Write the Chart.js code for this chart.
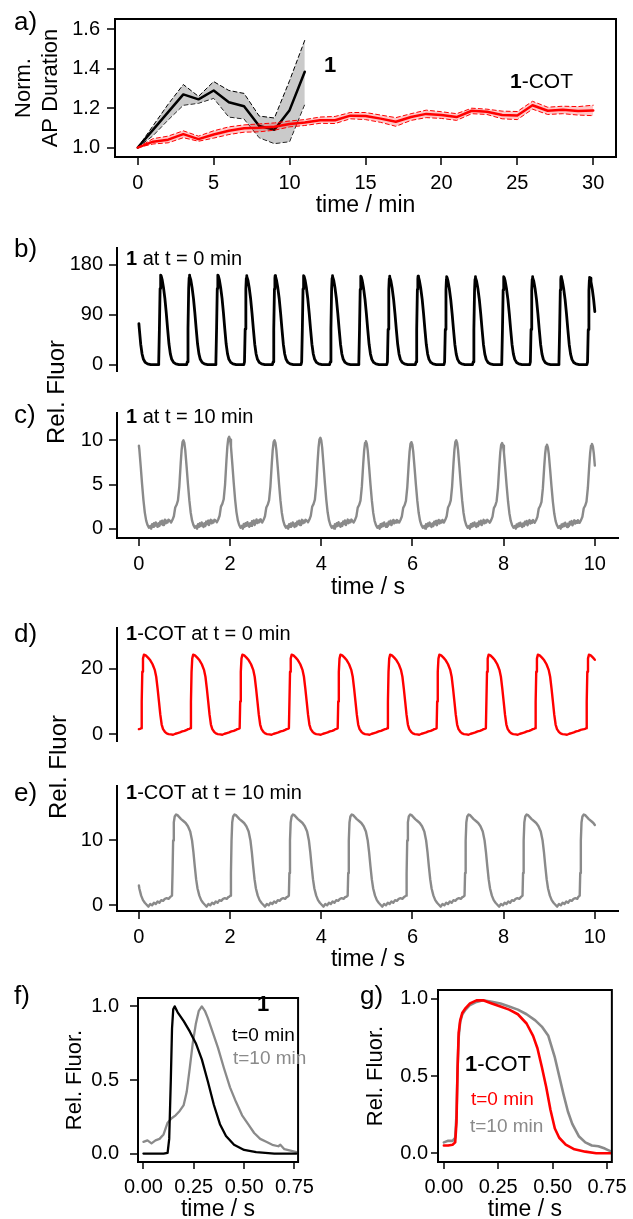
<!DOCTYPE html>
<html><head><meta charset="utf-8">
<script src="https://cdn.jsdelivr.net/npm/chart.js@4.4.1/dist/chart.umd.min.js"></script>
<style>
html,body{margin:0;padding:0;background:#fff;}
#fig{position:relative;width:633px;height:1219px;overflow:hidden;font-family:"Liberation Sans",Arial,sans-serif;color:#000;}
canvas{position:absolute;}
.lbl{position:absolute;white-space:nowrap;line-height:1;transform:translateY(-50%);}
.rot{position:absolute;white-space:nowrap;line-height:1;transform:translate(-50%,-50%) rotate(-90deg);}
b{font-weight:bold;}
</style></head><body><div id="fig">
<canvas id="cA" style="left:0;top:0" width="633" height="225"></canvas>
<canvas id="cB" style="left:0;top:230px" width="633" height="160"></canvas>
<canvas id="cC" style="left:0;top:395px" width="633" height="210"></canvas>
<canvas id="cD" style="left:0;top:610px" width="633" height="150"></canvas>
<canvas id="cE" style="left:0;top:768px" width="633" height="207"></canvas>
<canvas id="cF" style="left:0;top:975px" width="320" height="244"></canvas>
<canvas id="cG" style="left:320px;top:975px" width="313" height="244"></canvas>

<div class="lbl" style="left:14px;top:21px;font-size:26px">a)</div>
<div class="lbl" style="left:14px;top:248px;font-size:26px">b)</div>
<div class="lbl" style="left:14px;top:414px;font-size:26px">c)</div>
<div class="lbl" style="left:14px;top:633px;font-size:26px">d)</div>
<div class="lbl" style="left:14px;top:792px;font-size:26px">e)</div>
<div class="lbl" style="left:14px;top:995px;font-size:26px">f)</div>
<div class="lbl" style="left:360px;top:995px;font-size:26px">g)</div>

<div class="lbl" style="left:324px;top:65px;font-size:22px"><b>1</b></div>
<div class="lbl" style="left:510px;top:80px;font-size:21px"><b>1</b>-COT</div>

<div class="lbl" style="left:126px;top:258px;font-size:20px"><b>1</b> at t = 0 min</div>
<div class="lbl" style="left:126px;top:416px;font-size:20px"><b>1</b> at t = 10 min</div>
<div class="lbl" style="left:126px;top:633px;font-size:20px"><b>1</b>-COT at t = 0 min</div>
<div class="lbl" style="left:126px;top:792px;font-size:20px"><b>1</b>-COT at t = 10 min</div>

<div class="rot" style="left:56px;top:392px;font-size:24px">Rel. Fluor</div>
<div class="rot" style="left:58px;top:767px;font-size:24px">Rel. Fluor</div>

<div class="lbl" style="left:257px;top:1004px;font-size:22px"><b>1</b></div>
<div class="lbl" style="left:232px;top:1034px;font-size:19px">t=0 min</div>
<div class="lbl" style="left:233px;top:1057px;font-size:19px;color:#8a8a8a">t=10 min</div>

<div class="lbl" style="left:465px;top:1064px;font-size:22px"><b>1</b>-COT</div>
<div class="lbl" style="left:471px;top:1098px;font-size:19px;color:#ff0000">t=0 min</div>
<div class="lbl" style="left:470px;top:1125px;font-size:19px;color:#8a8a8a">t=10 min</div>
</div>
<script>
// ---------------- Panel a: normalized AP duration vs time (min) ----------------
const minutes1 = [0,1,2,3,4,5,6,7,8,9,10,11];
const apd1Mean  = [1.00,1.09,1.18,1.27,1.245,1.29,1.23,1.21,1.11,1.09,1.19,1.385];
const apd1Upper = [1.00,1.11,1.22,1.32,1.26,1.335,1.29,1.275,1.16,1.15,1.34,1.545];
const apd1Lower = [1.00,1.06,1.14,1.215,1.225,1.25,1.155,1.145,1.05,1.02,1.03,1.22];
const minutesCOT = [0,1,2,3,4,5,6,7,8,9,10,11,12,13,14,15,16,17,18,19,20,21,22,23,24,25,26,27,28,29,30];
const apdCOTMean  = [1.00,1.03,1.04,1.068,1.043,1.066,1.085,1.098,1.10,1.106,1.12,1.127,1.139,1.139,1.162,1.16,1.147,1.131,1.155,1.171,1.165,1.155,1.187,1.182,1.165,1.163,1.215,1.187,1.192,1.186,1.188];
const apdCOTUpper = [1.00,1.045,1.058,1.085,1.058,1.085,1.105,1.115,1.12,1.125,1.135,1.142,1.155,1.158,1.178,1.178,1.165,1.152,1.172,1.19,1.182,1.172,1.2,1.195,1.185,1.183,1.235,1.205,1.21,1.208,1.215];
const apdCOTLower = [1.00,1.018,1.024,1.05,1.032,1.048,1.066,1.078,1.08,1.088,1.105,1.112,1.123,1.122,1.146,1.142,1.128,1.108,1.138,1.152,1.148,1.138,1.172,1.168,1.146,1.142,1.195,1.168,1.172,1.165,1.162];
const ticksAx = [0,5,10,15,20,25,30];
const ticksAy = [1.0,1.2,1.4,1.6];

// ---------------- Panel b: compound 1, t = 0 min ----------------
const beatsB = [-0.14,0.48,1.107,1.734,2.361,2.988,3.615,4.242,4.869,5.496,6.123,6.75,7.377,8.004,8.631,9.258,9.885];
const ampsB  = [160,161,161,161,160,160,160,160,159,159,159,158,158,158,158,158,157];
const shapeB_dt  = [-0.06,-0.045,-0.03,-0.015,-0.005,0,0.01,0.03,0.06,0.09,0.12,0.15,0.18,0.21,0.24,0.28,0.33,0.4];
const shapeB_val = [0,0.03,0.4,0.85,0.97,1,0.99,0.95,0.86,0.74,0.58,0.4,0.23,0.12,0.06,0.025,0.008,0];
const ticksBy = [0,90,180];

// ---------------- Panel c: compound 1, t = 10 min ----------------
const beatsC = [-0.03,0.977,1.98,2.975,3.98,4.98,5.977,6.96,7.966,8.95,9.937];
const ampsC  = [10.1,10.0,10.4,10.0,10.3,9.9,9.8,10.0,9.7,9.5,9.6];
const shapeC_dt  = [-0.30,-0.27,-0.24,-0.21,-0.18,-0.15,-0.12,-0.09,-0.06,-0.04,-0.02,0,0.02,0.04,0.07,0.1,0.13,0.16,0.19,0.22,0.25,0.28,0.30,0.32,0.34,0.36,0.38,0.40,0.42,0.44,0.46,0.48,0.50,0.52,0.54,0.56,0.58,0.60,0.62,0.64,0.66,0.68];
const shapeC_val = [0.9,0.7,1.0,1.4,2.4,2.7,3.2,4.8,7.4,8.9,9.8,10,9.7,8.9,7.0,5.0,3.2,1.8,0.9,0.4,0.1,0.3,0.0,0.5,0.2,0.6,0.3,0.7,0.4,0.2,0.6,0.3,0.8,0.5,0.9,0.4,0.7,1.0,0.6,0.9,0.7,1.0];
const ticksCx = [0,2,4,6,8,10];
const ticksCy = [0,5,10];

// ---------------- Panel d: 1-COT, t = 0 min ----------------
const beatsD = [0.05,1.13,2.21,3.29,4.36,5.45,6.53,7.61,8.69,9.81];
const shapeD_dt  = [-0.05,-0.02,0,0.012,0.025,0.04,0.06,0.1,0.15,0.2,0.25,0.3,0.33,0.36,0.39,0.42,0.45,0.48,0.52,0.56,0.6,0.65,0.7,0.75,0.8,0.85,0.9,0.95,1.0];
const shapeD_val = [1.6,1.7,1.9,10,19,23,24.2,24.0,23.3,22.5,21.3,19.5,17.5,14,10,6,3,1.6,0.8,0.3,0.1,0.0,-0.1,0.2,0.4,0.6,0.9,1.1,1.4];
const ticksDy = [0,20];

// ---------------- Panel e: 1-COT, t = 10 min ----------------
const beatsE = [-0.55,0.726,2.007,3.289,4.579,5.86,7.142,8.414,9.668];
const shapeE_dt  = [-0.03,0,0.012,0.025,0.04,0.06,0.09,0.12,0.16,0.2,0.25,0.3,0.35,0.4,0.44,0.47,0.5,0.53,0.56,0.6,0.64,0.68,0.72,0.76,0.8,0.84,0.88,0.92,0.96,1.0,1.04,1.08,1.12,1.16,1.2,1.24];
const shapeE_val = [1.3,1.5,5,10,12.8,13.7,14,13.9,13.6,13.3,13,12.7,12.2,11.4,10,8.2,6,4,2.6,1.5,0.8,0.4,0.1,-0.2,0.2,0.0,0.4,0.2,0.6,0.4,0.8,0.7,1.0,1.1,1.0,1.3];
const ticksEy = [0,10];

// ---------------- Panel f: single normalized AP, compound 1 ----------------
const fT0_t = [0,0.1,0.12,0.128,0.136,0.142,0.148,0.155,0.17,0.2,0.23,0.26,0.29,0.32,0.35,0.38,0.41,0.45,0.5,0.56,0.65,0.76];
const fT0_v = [0,0,0.005,0.1,0.5,0.85,0.98,1.0,0.96,0.9,0.83,0.75,0.64,0.49,0.33,0.2,0.12,0.06,0.025,0.01,0.0,0.0];
const fT10_t = [0,0.02,0.04,0.06,0.08,0.1,0.12,0.14,0.16,0.18,0.2,0.215,0.23,0.245,0.26,0.275,0.29,0.305,0.32,0.34,0.37,0.4,0.43,0.46,0.49,0.52,0.55,0.58,0.61,0.64,0.67,0.68,0.7,0.73,0.76];
const fT10_v = [0.08,0.09,0.07,0.09,0.1,0.13,0.21,0.24,0.26,0.29,0.33,0.42,0.58,0.75,0.88,0.97,1.0,0.97,0.92,0.84,0.72,0.58,0.45,0.35,0.26,0.2,0.14,0.1,0.08,0.06,0.05,0.06,0.03,0.02,0.01];

// ---------------- Panel g: single normalized AP, 1-COT ----------------
const gT0_t = [0,0.02,0.04,0.052,0.058,0.063,0.068,0.075,0.085,0.1,0.12,0.15,0.18,0.22,0.26,0.3,0.34,0.38,0.41,0.43,0.45,0.47,0.49,0.51,0.53,0.56,0.6,0.65,0.7,0.77];
const gT0_v = [0.05,0.05,0.055,0.07,0.2,0.55,0.78,0.86,0.91,0.94,0.97,0.99,0.99,0.97,0.95,0.93,0.9,0.84,0.76,0.68,0.56,0.43,0.28,0.16,0.1,0.055,0.025,0.01,0.0,0.0];
const gT10_t = [0,0.02,0.04,0.052,0.058,0.063,0.068,0.075,0.085,0.1,0.12,0.15,0.18,0.22,0.26,0.3,0.34,0.38,0.42,0.45,0.48,0.51,0.53,0.55,0.57,0.59,0.62,0.65,0.68,0.71,0.74,0.77];
const gT10_v = [0.07,0.08,0.08,0.1,0.25,0.55,0.75,0.85,0.9,0.93,0.96,0.98,0.99,0.98,0.97,0.95,0.93,0.9,0.86,0.82,0.76,0.62,0.5,0.38,0.27,0.19,0.11,0.07,0.05,0.045,0.03,0.01];
const ticksFGx = [0,0.25,0.5,0.75];
const ticksFGy = [0,0.5,1.0];

// ---------------- helpers ----------------
const FONT = '"Liberation Sans", Arial, sans-serif';
Chart.defaults.font.family = FONT;
Chart.defaults.color = '#000';
Chart.defaults.animation = false;

const RED = '#ff0000', GRAY = '#8a8a8a';

function xy(xs, ys){ return xs.map((x,i)=>({x:x, y:ys[i]})); }

function buildTrace(beats, amps, dts, vals, peak, t0, t1){
  const pts = [];
  for (let i=0;i<beats.length;i++){
    const next = i+1<beats.length ? beats[i+1]+dts[0] : Infinity;
    const k = amps ? amps[i]/peak : 1;
    for (let j=0;j<dts.length;j++){
      const t = beats[i]+dts[j];
      if (t >= next) break;
      pts.push({x:t, y:vals[j]*k});
    }
  }
  const out = [];
  for (let i=0;i<pts.length;i++){
    const p = pts[i];
    if (p.x < t0){
      const q = pts[i+1];
      if (q && q.x > t0) out.push({x:t0, y:p.y+(q.y-p.y)*(t0-p.x)/(q.x-p.x)});
      continue;
    }
    if (p.x > t1){
      const q = pts[i-1];
      if (q && q.x < t1) out.push({x:t1, y:q.y+(p.y-q.y)*(t1-q.x)/(p.x-q.x)});
      break;
    }
    out.push(p);
  }
  return out;
}

const boxPlugin = {
  id:'box',
  afterDraw(chart, args, opts){
    if (!opts || !opts.on) return;
    const a = chart.chartArea, c = chart.ctx;
    c.save(); c.strokeStyle='#000'; c.lineWidth=2;
    c.strokeRect(a.left, a.top, a.right-a.left, a.bottom-a.top);
    c.restore();
  }
};
Chart.register(boxPlugin);

function axis(o){
  return {
    type:'linear', min:o.min, max:o.max, display:o.display!==false,
    afterFit: s => { if (o.size!=null){ if (s.isHorizontal()) s.height=o.size; else s.width=o.size; } },
    afterBuildTicks: s => { s.ticks = o.ticks.map(v=>({value:v})); },
    ticks:{ font:{size:o.fs||20}, color:'#000', padding:o.pad||6, autoSkip:false, maxRotation:0,
            callback: v => o.fmt ? o.fmt(v) : String(v) },
    grid:{ display:true, drawOnChartArea:false, drawTicks:true, tickLength:o.tl||8, tickWidth:1.5, tickColor:'#000', color:'#000', lineWidth:0 },
    border:{ display:!!o.border, color:'#000', width:2 },
    title: o.title ? { display:true, text:o.title, color:'#000', font:{size:o.tfs||22, lineHeight:1.2}, padding:o.tpad||{top:0,bottom:0} } : {display:false}
  };
}

function make(id, cw, ch, pad, xAx, yAx, datasets, box){
  new Chart(document.getElementById(id), {
    type:'line',
    data:{datasets:datasets},
    options:{
      responsive:false, animation:false, events:[],
      layout:{ padding:pad, autoPadding:false },
      plugins:{ legend:{display:false}, tooltip:{enabled:false}, box:{on:!!box} },
      elements:{ point:{radius:0}, line:{tension:0, borderJoinStyle:'round', borderCapStyle:'round'} },
      scales:{ x:xAx, y:yAx }
    }
  });
}

function line(data, color, w, extra){
  return Object.assign({data:data, borderColor:color, borderWidth:w, pointRadius:0, fill:false}, extra||{});
}

// ---------------- Panel a ----------------
make('cA', 633, 225, {left:0, top:13, right:633-616, bottom:0},
  axis({min:-1.5, max:31.5, ticks:ticksAx, size:225-157, tl:8, pad:6, title:'time / min', tfs:23, tpad:{top:0,bottom:6}}),
  axis({min:0.952, max:1.653, ticks:ticksAy, size:115, tl:8, pad:7, fmt:v=>v.toFixed(1), title:['Norm.','AP Duration'], tpad:{top:11,bottom:0}}),
  [
    line(xy(minutesCOT, apdCOTMean), RED, 2.5),
    line(xy(minutesCOT, apdCOTUpper), RED, 1, {borderDash:[4,3], fill:'+1', backgroundColor:'rgba(255,0,0,0.22)'}),
    line(xy(minutesCOT, apdCOTLower), RED, 1, {borderDash:[4,3]}),
    line(xy(minutes1, apd1Mean), '#000', 2.5),
    line(xy(minutes1, apd1Upper), '#000', 1, {borderDash:[4,3], fill:'+1', backgroundColor:'rgba(150,150,150,0.5)'}),
    line(xy(minutes1, apd1Lower), '#000', 1, {borderDash:[4,3]})
  ], true);

// ---------------- Panel b ----------------
make('cB', 633, 160, {left:0, top:247-230, right:633-619, bottom:390-382},
  axis({min:-0.48, max:10.53, ticks:ticksCx, display:false}),
  axis({min:-13.2, max:209.7, ticks:ticksBy, size:117, tl:8, pad:6, border:true}),
  [ line(buildTrace(beatsB, ampsB, shapeB_dt, shapeB_val, 1, 0, 10), '#000', 2.8) ]);

// ---------------- Panel c ----------------
make('cC', 633, 210, {left:0, top:405-395, right:633-619, bottom:0},
  axis({min:-0.48, max:10.53, ticks:ticksCx, size:605-538, tl:8, pad:6, border:true, title:'time / s', tfs:23, tpad:{top:0,bottom:4}}),
  axis({min:-1.06, max:13.1, ticks:ticksCy, size:117, tl:8, pad:6, border:true}),
  [ line(buildTrace(beatsC, ampsC, shapeC_dt, shapeC_val, 10, 0, 10), GRAY, 2.4) ]);

// ---------------- Panel d ----------------
make('cD', 633, 150, {left:0, top:621-610, right:633-619, bottom:760-755},
  axis({min:-0.48, max:10.53, ticks:ticksCx, display:false}),
  axis({min:-2.3, max:32.3, ticks:ticksDy, size:117, tl:8, pad:6, border:true}),
  [ line(buildTrace(beatsD, null, shapeD_dt, shapeD_val, 1, 0, 10), RED, 2.4) ]);

// ---------------- Panel e ----------------
make('cE', 633, 207, {left:0, top:778-768, right:633-619, bottom:0},
  axis({min:-0.48, max:10.53, ticks:ticksCx, size:975-911, tl:8, pad:6, border:true, title:'time / s', tfs:23, tpad:{top:0,bottom:2}}),
  axis({min:-0.87, max:18.4, ticks:ticksEy, size:117, tl:8, pad:6, border:true}),
  [ line(buildTrace(beatsE, null, shapeE_dt, shapeE_val, 1, 0, 10), GRAY, 2.4) ]);

// ---------------- Panel f ----------------
const fmt2 = v => v.toFixed(2);
const fmt1 = v => v.toFixed(1);
make('cF', 320, 244, {left:0, top:985-975, right:320-316, bottom:0},
  axis({min:-0.027, max:0.768, ticks:ticksFGx, size:1219-1162, tl:7, pad:6, fmt:fmt2, title:'time / s', tfs:23, tpad:{top:0,bottom:-4}}),
  axis({min:-0.057, max:1.057, ticks:ticksFGy, size:138, tl:8, pad:11, fmt:fmt1, title:'Rel. Fluor.', tpad:{top:62,bottom:0}}),
  [ line(xy(fT0_t, fT0_v), '#000', 2.3), line(xy(fT10_t, fT10_v), GRAY, 2.3) ], true);

// ---------------- Panel g ----------------
make('cG', 313, 244, {left:0, top:985-975, right:313-296, bottom:0},
  axis({min:-0.027, max:0.772, ticks:ticksFGx, size:1219-1162, tl:7, pad:6, fmt:fmt2, title:'time / s', tfs:23, tpad:{top:0,bottom:-4}}),
  axis({min:-0.057, max:1.057, ticks:ticksFGy, size:118, tl:7, pad:3, fmt:fmt1, title:'Rel. Fluor.', tpad:{top:43,bottom:0}}),
  [ line(xy(gT0_t, gT0_v), RED, 2.6), line(xy(gT10_t, gT10_v), GRAY, 2.6) ], true);
</script>
</body></html>
